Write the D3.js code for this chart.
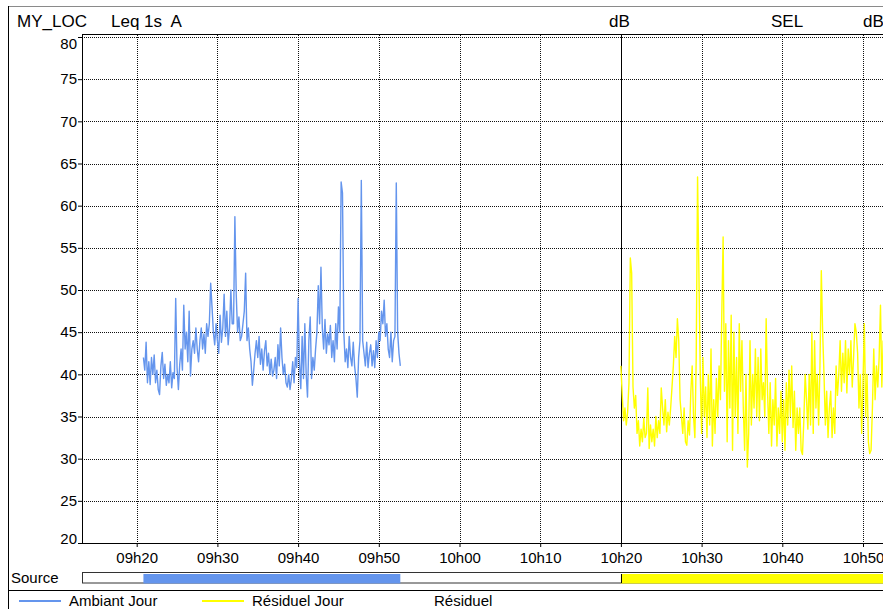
<!DOCTYPE html>
<html>
<head>
<meta charset="utf-8">
<script src="https://cdn.jsdelivr.net/npm/d3@7"></script>
<style>
  body { margin: 0; background: #fff; }
  svg { display: block; font-family: "Liberation Sans", Arial, sans-serif; }
  svg text { white-space: pre; }
</style>
</head>
<body>
<figure id="chart" style="margin:0"></figure>
<script>
const headerLeft = ["MY_LOC", "Leq 1s  A"];
const headerRight = ["dB", "SEL", "dB"];

const yTicks = [20, 25, 30, 35, 40, 45, 50, 55, 60, 65, 70, 75, 80];
const xTicks = ["09:20", "09:30", "09:40", "09:50", "10:00", "10:10", "10:20", "10:30", "10:40", "10:50"];
const periodSplit = "10:20";

const stepSeconds = 10;

// Ambiant Jour, one value every 10 s from 09h20m50
const ambiantStart = "09:20:50";
const ambiantJour = [
  42,
  40.5, 43.8, 39, 41.5, 38.8, 42,
  40, 42.3, 39, 40.5, 38.2, 37.6,
  41, 42.6, 39.5, 41.2, 38.7, 40,
  39, 41.5, 38.4, 40.2, 39.5, 49,
  40.8, 38.2, 41.2, 43, 40.5, 48.2,
  43, 45, 41.5, 47.5, 39.8, 43,
  44, 42.5, 45.5, 43, 41.5, 44,
  45.5, 43, 44.8, 42.5, 46, 44.5,
  46, 50.8, 48, 45, 43.5, 46,
  44, 42.5, 47, 43.8, 45.5, 49.5,
  44.5, 47.5, 43.5, 45.5, 50, 46,
  46, 58.7, 49.5, 45, 46.8, 44,
  44.5, 46, 47.5, 52, 44, 45.5,
  43, 41.5, 38.7, 40.5, 42.5, 44,
  42, 44.5, 41.2, 43, 40.5, 42.8,
  44, 41, 42.5, 40, 41.8, 39.8,
  40.5, 42, 39.5, 43.5, 41, 45.5,
  42, 40, 41.2, 39, 38.5, 40,
  38.2, 39.5, 41.5, 39, 42, 40.8,
  49, 41.5, 38.3, 44.5, 39.5, 46,
  40, 37.3, 44, 46.8, 39.5, 42,
  40.5, 43, 45, 50.5, 46, 52.7,
  45.5, 43, 46.5, 42.5, 44.8, 43.5,
  45.8, 42, 44, 41.5, 46, 43,
  48, 45, 62.8, 61.5, 45, 41.5,
  43, 40.8, 44.5, 42, 41, 43.8,
  41, 39.5, 37.3, 42, 44, 63,
  44, 42.5, 41, 43.8, 40.8, 42.5,
  43.5, 41, 42.8, 40.8, 44, 42,
  45, 44, 47.5, 46, 48.8, 44.5,
  46, 43, 42, 45, 41.5, 44,
  44.5, 62.7, 45, 42.5, 41
];

// Résiduel Jour, one value every 10 s from 10h20m00
const residuelStart = "10:20:00";
const residuelJour = [
  41, 37.5, 34.5, 36, 34, 35.5,
  39, 53.8, 52, 38.5, 36, 37.5,
  33, 34.5, 31.5, 33.5, 32, 34.8,
  32.5, 33, 38.4, 31.2, 34, 32,
  33.5, 31.5, 35, 32.5, 34.5, 33,
  38.4, 36, 34, 37, 33.2, 35.5,
  34, 36, 38.5, 41, 44.5, 42,
  46.6, 44, 37, 35, 33, 36,
  32, 31.6, 34.5, 32.8, 38, 41,
  35, 32.5, 42, 63.4, 52, 40,
  33, 42, 35, 38.5, 32.5, 40,
  34, 43, 31.5, 37, 33, 39.5,
  35, 41, 37, 47, 56.3, 38,
  46, 32, 44, 36, 47, 31,
  45, 35, 42, 33, 46, 38,
  44, 36, 31, 40, 29, 33,
  44, 34, 40, 36, 43, 35,
  42, 34.5, 43, 37, 39, 35,
  46.6, 38, 33, 39, 31.5, 37,
  34, 39.5, 31.5, 36, 33, 38,
  32, 37, 31, 39, 34, 40.5,
  35, 41, 33.7, 38, 31, 36,
  33, 36, 31, 30.5, 34.5, 40,
  37, 33.5, 40, 34, 45, 33,
  44, 36, 40, 34, 41, 52.3,
  45, 40, 34, 38, 32.5, 36,
  38, 32.5, 36, 33, 41, 37.5,
  40, 44, 38, 42.5, 39, 44,
  37.8, 43, 40, 44, 38.5, 42,
  46, 45, 42.5, 36, 40, 33,
  39, 46, 35, 40, 32, 30.6,
  31, 36, 43, 37, 41, 38.5,
  42, 48.2, 38.5, 44
];

const legendNames = ["Ambiant Jour", "Résiduel Jour", "Résiduel"];
const legendColors = ["#6495ed", "#ffff00", "#ffffff"];
const sourceLabel = "Source";

const width = 883, height = 609;
const plotLeft = 82, plotRight = 883, plotTop = 35, plotBottom = 543;

const parseHM = d3.timeParse("%H:%M");
const parseHMS = d3.timeParse("%H:%M:%S");
const fmt = d3.timeFormat("%Hh%M");

const x = d3.scaleTime()
  .domain([parseHM("09:20"), parseHM("10:50")])
  .range([136.7, 863]);

const y = d3.scaleLinear()
  .domain([20, 80])
  .range([plotBottom, 37]);

const toPoints = (start, values) => {
  const t0 = parseHMS(start);
  return values.map((v, i) => ({ t: d3.timeSecond.offset(t0, i * stepSeconds), v }));
};

const ambiant = toPoints(ambiantStart, ambiantJour);
const residuel = toPoints(residuelStart, residuelJour);

const svg = d3.select("figure#chart")
  .append("svg")
  .attr("width", width)
  .attr("height", height);

svg.append("defs").append("clipPath")
    .attr("id", "plot")
  .append("rect")
    .attr("x", plotLeft).attr("y", plotTop)
    .attr("width", plotRight - plotLeft).attr("height", plotBottom - plotTop);

// frame
svg.append("line")
    .attr("x1", 8).attr("x2", width).attr("y1", 6.5).attr("y2", 6.5)
    .attr("stroke", "#8a8a8a");
svg.append("line")
    .attr("x1", 8.5).attr("x2", 8.5).attr("y1", 6).attr("y2", height)
    .attr("stroke", "#000");

// header
const header = svg.append("g")
    .attr("font-size", 17)
    .attr("fill", "#000");
header.append("text").attr("x", 17).attr("y", 27).text(headerLeft[0]);
header.append("text").attr("x", 111).attr("y", 27).text(headerLeft[1]);
header.selectAll("text.r")
  .data(headerRight)
  .join("text")
    .attr("class", "r")
    .attr("x", (d, i) => [609, 771, 863][i])
    .attr("y", 27)
    .text(d => d);

// grid
const grid = svg.append("g")
    .attr("stroke", "#111")
    .attr("stroke-dasharray", "1,1")
    .attr("shape-rendering", "crispEdges");

grid.selectAll("line.h")
  .data(yTicks.filter(d => d > 20))
  .join("line")
    .attr("class", "h")
    .attr("x1", plotLeft).attr("x2", plotRight)
    .attr("y1", d => Math.round(y(d)) + 0.5)
    .attr("y2", d => Math.round(y(d)) + 0.5);

grid.selectAll("line.v")
  .data(xTicks.filter(d => d !== periodSplit))
  .join("line")
    .attr("class", "v")
    .attr("x1", d => Math.round(x(parseHM(d))) + 0.5)
    .attr("x2", d => Math.round(x(parseHM(d))) + 0.5)
    .attr("y1", plotTop).attr("y2", plotBottom);

svg.append("line")
    .attr("x1", Math.round(x(parseHM(periodSplit))) + 0.5)
    .attr("x2", Math.round(x(parseHM(periodSplit))) + 0.5)
    .attr("y1", plotTop).attr("y2", plotBottom)
    .attr("stroke", "#000")
    .attr("shape-rendering", "crispEdges");

// series
const line = d3.line()
  .x(d => x(d.t))
  .y(d => y(d.v));

const series = svg.append("g")
    .attr("clip-path", "url(#plot)")
    .attr("fill", "none")
    .attr("stroke-width", 1.4)
    .attr("stroke-linejoin", "round");

series.append("path")
    .datum(residuel)
    .attr("stroke", legendColors[1])
    .attr("d", line);

series.append("path")
    .datum(ambiant)
    .attr("stroke", legendColors[0])
    .attr("d", line);

// axes
const yAxis = svg.append("g")
    .attr("transform", `translate(${plotLeft},0)`)
    .call(d3.axisLeft(y).tickValues(yTicks).tickSize(4).tickPadding(1).tickSizeOuter(0))
    .call(g => g.select(".domain").remove())
    .call(g => g.attr("font-family", null).attr("font-size", 15))
    .call(g => g.selectAll("text").attr("fill", "#000"))
    .call(g => g.selectAll("line").attr("stroke", "#000"));

yAxis.selectAll(".tick text")
    .filter(d => d === 80)
    .attr("dy", "0.75em");
yAxis.selectAll(".tick text")
    .filter(d => d === 20)
    .attr("dy", "0em");

svg.append("g")
    .attr("transform", `translate(0,${plotBottom})`)
    .call(d3.axisBottom(x).tickValues(xTicks.map(parseHM)).tickFormat(fmt).tickSize(4).tickPadding(5).tickSizeOuter(0))
    .call(g => g.select(".domain").remove())
    .call(g => g.attr("font-family", null).attr("font-size", 15))
    .call(g => g.selectAll("text").attr("fill", "#000"))
    .call(g => g.selectAll("line").attr("stroke", "#000"));

svg.append("path")
    .attr("d", `M${plotLeft + 0.5},${plotTop}V${plotBottom + 0.5}H${plotRight}`)
    .attr("fill", "none")
    .attr("stroke", "#000")
    .attr("shape-rendering", "crispEdges");
svg.append("line")
    .attr("x1", plotLeft).attr("x2", plotRight).attr("y1", plotTop - 0.5).attr("y2", plotTop - 0.5)
    .attr("stroke", "#000")
    .attr("shape-rendering", "crispEdges");

// source bar
const bar = svg.append("g");
bar.append("rect")
    .attr("x", plotLeft + 0.5).attr("y", 572.5)
    .attr("width", plotRight - plotLeft).attr("height", 10.5)
    .attr("fill", "#fff")
    .attr("stroke", "#333");
bar.append("rect")
    .attr("x", x(ambiant[0].t)).attr("y", 574)
    .attr("width", x(ambiant[ambiant.length - 1].t) - x(ambiant[0].t))
    .attr("height", 9.5)
    .attr("fill", legendColors[0]);
bar.append("rect")
    .attr("x", x(residuel[0].t)).attr("y", 574)
    .attr("width", plotRight - x(residuel[0].t))
    .attr("height", 9.5)
    .attr("fill", legendColors[1]);
bar.append("line")
    .attr("x1", Math.round(x(residuel[0].t)) + 0.5)
    .attr("x2", Math.round(x(residuel[0].t)) + 0.5)
    .attr("y1", 574).attr("y2", 583)
    .attr("stroke", "#000");
bar.append("text")
    .attr("x", 11).attr("y", 583)
    .attr("font-size", 15)
    .text(sourceLabel);

// legend
svg.append("line")
    .attr("x1", 8).attr("x2", width).attr("y1", 590.5).attr("y2", 590.5)
    .attr("stroke", "#000");

const legendItems = legendNames.map((name, i) => ({ name, color: legendColors[i], offset: [19, 202, 384][i] }));

const legend = svg.append("g")
  .selectAll("g")
  .data(legendItems)
  .join("g")
    .attr("transform", d => `translate(${d.offset},0)`);

legend.append("rect")
    .attr("x", 0).attr("y", 600)
    .attr("width", 42).attr("height", 2)
    .attr("fill", d => d.color);

legend.append("text")
    .attr("x", 50)
    .attr("y", 606)
    .attr("font-size", 15)
    .attr("fill", "#000")
    .text(d => d.name);
</script>
</body>
</html>
